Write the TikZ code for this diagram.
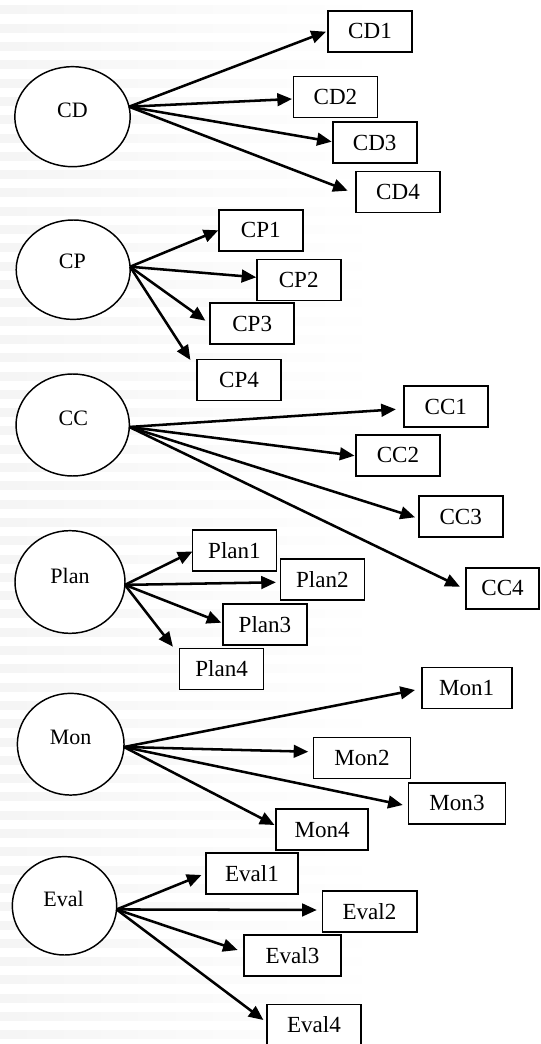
\documentclass[tikz,border=0pt]{standalone}
\usepackage{fontspec}
\setmainfont{Liberation Serif}
\usetikzlibrary{arrows.meta,shapes.geometric}
\begin{document}
\begin{tikzpicture}[x=0.75pt,y=-0.75pt,
  ell/.style={ellipse,draw,line width=1.1pt,inner sep=0pt,outer sep=0pt,fill=white},
  lbl/.style={font=\fontsize{16.5}{18}\selectfont,inner sep=0pt},
  box/.style={rectangle,draw,line width=1.2pt,inner sep=0pt,outer sep=0pt,minimum height=30.75pt,minimum width=63pt,fill=white,font=\fontsize{17.3}{19}\selectfont},
  arr/.style={-{Triangle[length=11pt,width=9.5pt]},line width=1.9pt}]
\useasboundingbox (0,0) rectangle (540,1044);
\fill[white] (0,0) rectangle (540,1044);
\foreach \i in {0,...,57}
  \shade[left color=black!4,right color=white] (0,{6+18.3*\i}) rectangle (380,{14+18.3*\i});

% CD
\node[ell,minimum width=86.55pt,minimum height=75pt] (CD) at (72.5,116.7) {};
\node[lbl] (CDt) at (72.5,110) {CD};
\node[box] (CD1) at (370,31.3) {CD1};
\node[box] (CD2) at (335.4,97.2) {CD2};
\node[box] (CD3) at (374.7,142.5) {CD3};
\node[box] (CD4) at (398,192.2) {CD4};
\draw[arr] (CD.10) -- ([shift={(-2.1,0.4)}]CD1.west);
\draw[arr] (CD.10) -- ([shift={(-1.4,1.8)}]CD2.west);
\draw[arr] (CD.10) -- ([shift={(-1,-0.8)}]CD3.west);
\draw[arr] (CD.10) -- ([shift={(-8.3,-1.5)}]CD4.west);

% CP
\node[ell,minimum width=85.5pt,minimum height=74.55pt] (CP) at (73.2,269.7) {};
\node[lbl] (CPt) at (72.3,261.7) {CP};
\node[box] (CP1) at (260.8,230.3) {CP1};
\node[box] (CP2) at (298.7,280) {CP2};
\node[box] (CP3) at (252.2,323.8) {CP3};
\node[box] (CP4) at (239,380) {CP4};
\draw[arr] (CP.3) -- ([shift={(-0.5,0)}]CP1.west);
\draw[arr] (CP.3) -- ([shift={(-0.4,-2.7)}]CP2.west);
\draw[arr] (CP.3) -- ([shift={(-4.8,-3.1)}]CP3.west);
\draw[arr] (CP.3) -- ([shift={(-6.6,-20)}]CP4.west);

% CC
\node[ell,minimum width=85pt,minimum height=76.5pt] (CC) at (72.7,425) {};
\node[lbl] (CCt) at (73.3,418.3) {CC};
\node[box] (CC1) at (445.8,406.5) {CC1};
\node[box] (CC2) at (397.9,455.3) {CC2};
\node[box] (CC3) at (460.7,516.5) {CC3};
\node[box,minimum width=55pt] (CC4) at (502.6,588.2) {CC4};
\draw[arr] (CC.-2) -- ([shift={(-7.9,2.8)}]CC1.west);
\draw[arr] (CC.-2) -- ([shift={(-1.4,0.4)}]CC2.west);
\draw[arr] (CC.-2) -- ([shift={(-3.7,0.8)}]CC3.west);
\draw[arr] (CC.-2) -- ([shift={(-6,-1.5)}]CC4.west);

% Plan
\node[ell,minimum width=82.5pt,minimum height=77pt] (Plan) at (70,582) {};
\node[lbl] (Plant) at (70,576) {Plan};
\node[box] (Plan1) at (234.5,550.5) {Plan1};
\node[box] (Plan2) at (322.3,579.7) {Plan2};
\node[box] (Plan3) at (265,624.5) {Plan3};
\node[box] (Plan4) at (221.6,668.8) {Plan4};
\draw[arr] (Plan.-3) -- ([shift={(0,1)}]Plan1.west);
\draw[arr] (Plan.-3) -- ([shift={(-4.4,2.6)}]Plan2.west);
\draw[arr] (Plan.-3) -- ([shift={(-1.6,-1.8)}]Plan3.west);
\draw[arr] (Plan.-3) -- ([shift={(-6.7,-22.1)}]Plan4.west);

% Mon
\node[ell,minimum width=80pt,minimum height=76.3pt] (Mon) at (70.7,744.2) {};
\node[lbl] (Mont) at (70.7,737.3) {Mon};
\node[box,minimum width=67.5pt] (Mon1) at (466.7,687.8) {Mon1};
\node[box,minimum width=73pt] (Mon2) at (362,757.8) {Mon2};
\node[box,minimum width=73pt] (Mon3) at (457,803.3) {Mon3};
\node[box,minimum width=69pt] (Mon4) at (322.2,829.7) {Mon4};
\draw[arr] (Mon.-3) -- ([shift={(-6.7,2.2)}]Mon1.west);
\draw[arr] (Mon.-3) -- ([shift={(-5,-6.1)}]Mon2.west);
\draw[arr] (Mon.-3) -- ([shift={(-5.6,1.7)}]Mon3.west);
\draw[arr] (Mon.-3) -- ([shift={(-1.7,-4.7)}]Mon4.west);

% Eval
\node[ell,minimum width=78.3pt,minimum height=73.8pt] (Eval) at (64.5,905.8) {};
\node[lbl] (Evalt) at (63.5,899.3) {Eval};
\node[box,minimum width=69pt] (Eval1) at (252,873.3) {Eval1};
\node[box,minimum width=70.8pt] (Eval2) at (369.5,911.3) {Eval2};
\node[box,minimum width=72.8pt] (Eval3) at (292.4,955.3) {Eval3};
\node[box,minimum width=70.5pt] (Eval4) at (313.9,1024.8) {Eval4};
\draw[arr] (Eval.-4) -- ([shift={(-4.5,1.7)}]Eval1.west);
\draw[arr] (Eval.-4) -- ([shift={(-5.5,-1.3)}]Eval2.west);
\draw[arr] (Eval.-4) -- ([shift={(-6.2,-5.3)}]Eval3.west);
\draw[arr] (Eval.-4) -- ([shift={(-3.5,-4.8)}]Eval4.west);
\end{tikzpicture}
\end{document}
